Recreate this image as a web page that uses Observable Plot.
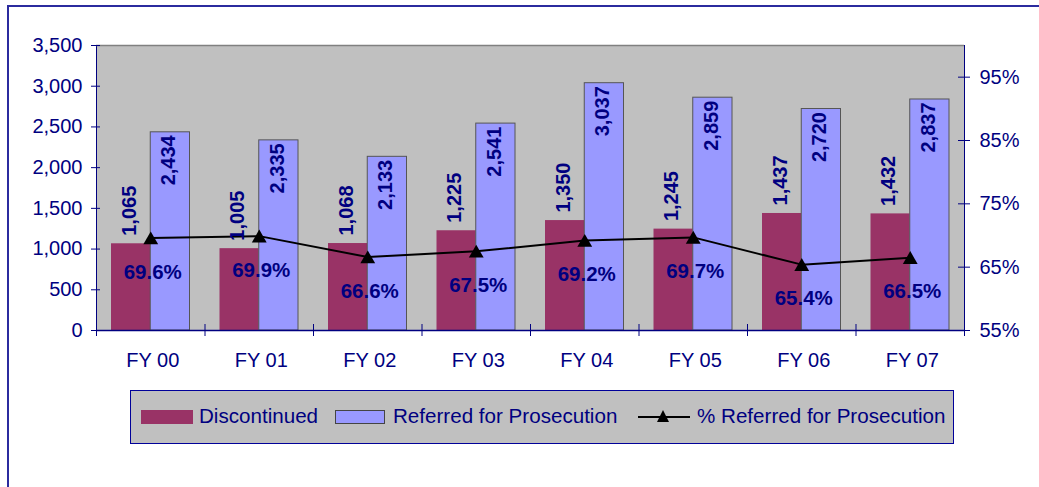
<!DOCTYPE html>
<html><head><meta charset="utf-8">
<script src="https://cdn.jsdelivr.net/npm/d3@7"></script>
<script src="https://cdn.jsdelivr.net/npm/@observablehq/plot@0.6"></script>
<style>
html,body{margin:0;padding:0;background:#fff;overflow:hidden;}
#wrap{position:relative;width:1039px;height:487px;overflow:hidden;font-family:"Liberation Sans",Arial,sans-serif;}
#border{position:absolute;left:7px;top:5px;width:1200px;height:700px;border:2px solid #2b2b9e;box-sizing:border-box;}
#chart{position:absolute;left:0;top:0;}
#legend{position:absolute;left:130px;top:390px;width:824px;height:54px;box-sizing:border-box;background:#C0C0C0;border:1px solid #000099;}
#legend .sw{position:absolute;top:19px;height:14px;box-sizing:border-box;}
#legend .lab{position:absolute;top:15px;font-size:20.6px;line-height:20px;color:#000080;white-space:nowrap;}
#legend svg{position:absolute;}
</style></head><body>
<div id="wrap">
  <div id="border"></div>
  <div id="chart"></div>
  <div id="legend"></div>
</div>
<script>
const categories = ["FY 00", "FY 01", "FY 02", "FY 03", "FY 04", "FY 05", "FY 06", "FY 07"];
const discontinued = [1065, 1005, 1068, 1225, 1350, 1245, 1437, 1432];
const referred = [2434, 2335, 2133, 2541, 3037, 2859, 2720, 2837];
const pctReferred = [69.6, 69.9, 66.6, 67.5, 69.2, 69.7, 65.4, 66.5];
const leftTicks = [0, 500, 1000, 1500, 2000, 2500, 3000, 3500];
const rightTicks = [55, 65, 75, 85, 95];
const seriesNames = ["Discontinued", "Referred for Prosecution", "% Referred for Prosecution"];

const navy = "#000080";
const colDisc = "#993366";
const colRef = "#9999FF";
const yMax = 3500, pMin = 55, pMax = 100;
const toY = p => (p - pMin) / (pMax - pMin) * yMax;
const fromY = v => pMin + v / yMax * (pMax - pMin);
const fmt = d3.format(",");

const rows = categories.map((c, i) => ({
  cat: c, disc: discontinued[i], ref: referred[i], pct: pctReferred[i], pctY: toY(pctReferred[i])
}));

const W = 1039, H = 390, mL = 96, mR = 75, mT = 45, mB = 60;
const band = (W - mL - mR) / categories.length;
const half = band / 2;
const outer = 15;
const fontFamily = '"Liberation Sans", Arial, sans-serif';

const chart = Plot.plot({
  width: W, height: H,
  marginLeft: mL, marginRight: mR, marginTop: mT, marginBottom: mB,
  style: {background: "transparent", fontFamily, color: navy},
  x: {type: "band", domain: categories, padding: 0, round: false, label: null},
  y: {domain: [0, yMax], label: null},
  marks: [
    Plot.frame({fill: "#C0C0C0", stroke: navy}),
    Plot.ruleY([yMax], {stroke: "#808080", strokeWidth: 1.5}),
    Plot.barY(rows, {x: "cat", y: "disc", fill: colDisc, insetLeft: outer, insetRight: half}),
    Plot.barY(rows, {x: "cat", y: "ref", fill: colRef, stroke: "#555555", strokeWidth: 1, insetLeft: half, insetRight: outer}),
    Plot.ruleY([0], {stroke: navy, strokeWidth: 1.5}),
    // left axis
    Plot.axisY({ticks: leftTicks, tickSize: 9, dx: 4, fill: "none", stroke: navy, label: null}),
    Plot.axisY({ticks: leftTicks, tickFormat: fmt, tickSize: 0, tickPadding: 14, stroke: "none", fill: navy, fontSize: 20, label: null}),
    // right axis
    Plot.axisY({anchor: "right", ticks: rightTicks.map(toY), tickSize: 12, dx: -7, fill: "none", stroke: navy, label: null}),
    Plot.axisY({anchor: "right", ticks: rightTicks.map(toY), tickFormat: d => Math.round(fromY(d)) + "%", tickSize: 0, tickPadding: 15, stroke: "none", fill: navy, fontSize: 20, label: null}),
    // x axis
    Plot.axisX({tickSize: 12, dy: -6, dx: -half, fill: "none", stroke: navy, label: null}),
    Plot.axisX({ticks: [categories[categories.length - 1]], tickSize: 12, dy: -6, dx: half, fill: "none", stroke: navy, label: null}),
    Plot.axisX({tickSize: 0, tickPadding: 22, dx: 2, stroke: "none", fill: navy, fontSize: 20, label: null}),
    // line
    Plot.line(rows, {x: "cat", y: "pctY", stroke: "black", strokeWidth: 2}),
    Plot.dot(rows, {x: "cat", y: "pctY", symbol: "triangle", r: 5.5, fill: "black", stroke: "none", dy: 2}),
    // labels
    Plot.text(rows, {x: "cat", y: "disc", text: d => fmt(d.disc), rotate: -90, textAnchor: "start", dx: -21.5, dy: -8, fontWeight: "bold", fontSize: 20, fill: navy}),
    Plot.text(rows, {x: "cat", y: "ref", text: d => fmt(d.ref), rotate: -90, textAnchor: "end", dx: 18, dy: 3, fontWeight: "bold", fontSize: 20, fill: navy}),
    Plot.text(rows, {x: "cat", y: "pctY", text: d => d.pct.toFixed(1) + "%", dx: 2, dy: 34, fontWeight: "bold", fontSize: 20.5, fill: navy})
  ]
});
document.getElementById("chart").appendChild(chart);

// legend
const lg = document.getElementById("legend");
lg.innerHTML = `
  <div class="sw" style="left:10px;width:52px;background:${colDisc}"></div>
  <span class="lab" style="left:68px">${seriesNames[0]}</span>
  <div class="sw" style="left:204px;width:50px;background:${colRef};border:1px solid #444"></div>
  <span class="lab" style="left:262px">${seriesNames[1]}</span>
  <svg style="left:507px;top:17px" width="52" height="18"><line x1="0" y1="9" x2="52" y2="9" stroke="black" stroke-width="2"/><path d="M25,2 L31,14 L19,14 Z" fill="black"/></svg>
  <span class="lab" style="left:566px">${seriesNames[2]}</span>`;
</script>
</body></html>
